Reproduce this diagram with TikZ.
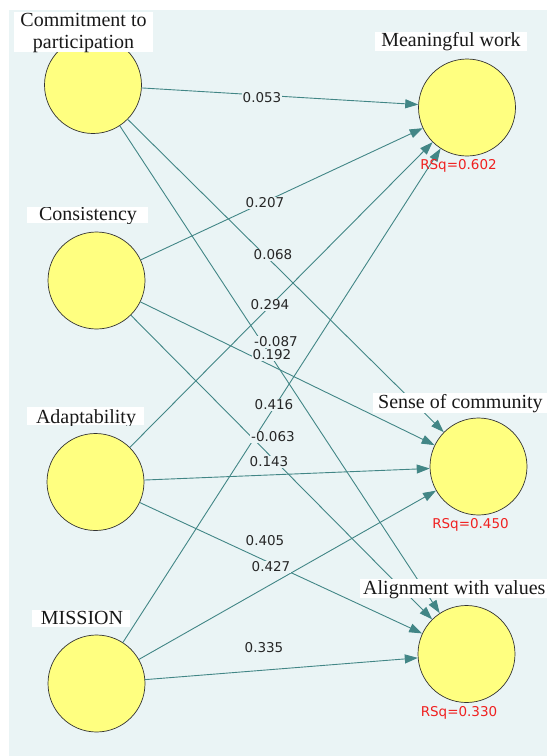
\documentclass[tikz,border=0pt]{standalone}
\usepackage{fontspec}
\setmainfont{Liberation Serif}
\newfontfamily\numfont{DejaVu Sans}
\usetikzlibrary{arrows.meta}

\definecolor{canvas}{RGB}{234,244,245}
\definecolor{latent}{RGB}{255,255,128}
\definecolor{edgeteal}{RGB}{66,134,134}
\definecolor{rsqred}{RGB}{240,32,32}

% white title box clipped to its frame: name, x1, y1, x2, y2, anchor, x, y, text
\newcommand\titlebox[9]{%
  \begin{scope}
    \clip (#2,#3) rectangle (#4,#5);
    \fill[white] (#2,#3) rectangle (#4,#5);
    \node[title, anchor=#6] (#1) at (#7,#8) {#9};
  \end{scope}}

\begin{document}
\begin{tikzpicture}[x=1pt,y=-1pt,
  construct/.style={circle, draw=black!80, line width=0.7pt, fill=latent,
    minimum size=97pt, inner sep=0pt},
  link/.style={draw=edgeteal, line width=0.9pt, -{Triangle[length=13pt,width=9pt]}},
  coef/.style={font=\numfont\fontsize{13.5}{15}\selectfont, text=black!85,
    fill=canvas, inner sep=1pt},
  rsq/.style={font=\numfont\fontsize{13.5}{15}\selectfont, text=rsqred, inner sep=0pt},
  title/.style={inner sep=0pt, font=\fontsize{20}{22}\selectfont, text=black!90, align=center}
]
\useasboundingbox (0,0) rectangle (547,756);
\fill[white] (0,0) rectangle (547,756);
\fill[canvas] (9,10) rectangle (547,756);

% constructs
\node[construct] (commit)  at (93,85)     {};
\node[construct] (consist) at (96.5,280.5) {};
\node[construct] (adapt)   at (95.5,482)  {};
\node[construct] (mission) at (96.5,683.5) {};
\node[construct] (mw)      at (467,107.5) {};
\node[construct] (soc)     at (478.5,466.5) {};
\node[construct] (align)   at (466.5,654) {};

% paths
\draw[link] (commit)  -- (mw);
\draw[link] (commit)  -- (soc);
\draw[link] (commit)  -- (align);
\draw[link] (consist) -- (mw);
\draw[link] (consist) -- (soc);
\draw[link] (consist) -- (align);
\draw[link] (adapt)   -- (mw);
\draw[link] (adapt)   -- (soc);
\draw[link] (adapt)   -- (align);
\draw[link] (mission) -- (mw);
\draw[link] (mission) -- (soc);
\draw[link] (mission) -- (align);

% path coefficients
\node[coef] (c1)  at (262,98)  {0.053};
\node[coef] (c2)  at (265,203) {0.207};
\node[coef] (c3)  at (273,255) {0.068};
\node[coef] (c4)  at (270,305) {0.294};
\node[coef] (c5)  at (276,342) {-0.087};
\node[coef] (c6)  at (272,355) {0.192};
\node[coef] (c7)  at (274,405) {0.416};
\node[coef] (c8)  at (273,437) {-0.063};
\node[coef] (c9)  at (269,462) {0.143};
\node[coef] (c10) at (265,541) {0.405};
\node[coef] (c11) at (271,567) {0.427};
\node[coef] (c12) at (264,648) {0.335};

% explained variance
\node[rsq] (r1) at (458.5,166) {RSq=0.602};
\node[rsq] (r2) at (470.5,525) {RSq=0.450};
\node[rsq] (r3) at (459,713)   {RSq=0.330};

% construct titles
\titlebox{t1}{14}{12}{153}{52}{center}{83.5}{33.5}{Commitment to\\participation}
\titlebox{t2}{27}{207}{148}{223}{base}{88}{220}{Consistency}
\titlebox{t3}{27}{407}{144}{425}{base}{86}{423}{Adaptability}
\titlebox{t4}{32}{610}{130}{627}{base}{82}{624}{MISSION}
\titlebox{t5}{375}{32}{527}{51}{base}{451}{46.5}{Meaningful work}
\titlebox{t6}{373}{393}{547}{413}{base west}{378}{408}{Sense of community}
\titlebox{t7}{360}{579}{547}{598}{base west}{363}{594}{Alignment with values}
\end{tikzpicture}
\end{document}
